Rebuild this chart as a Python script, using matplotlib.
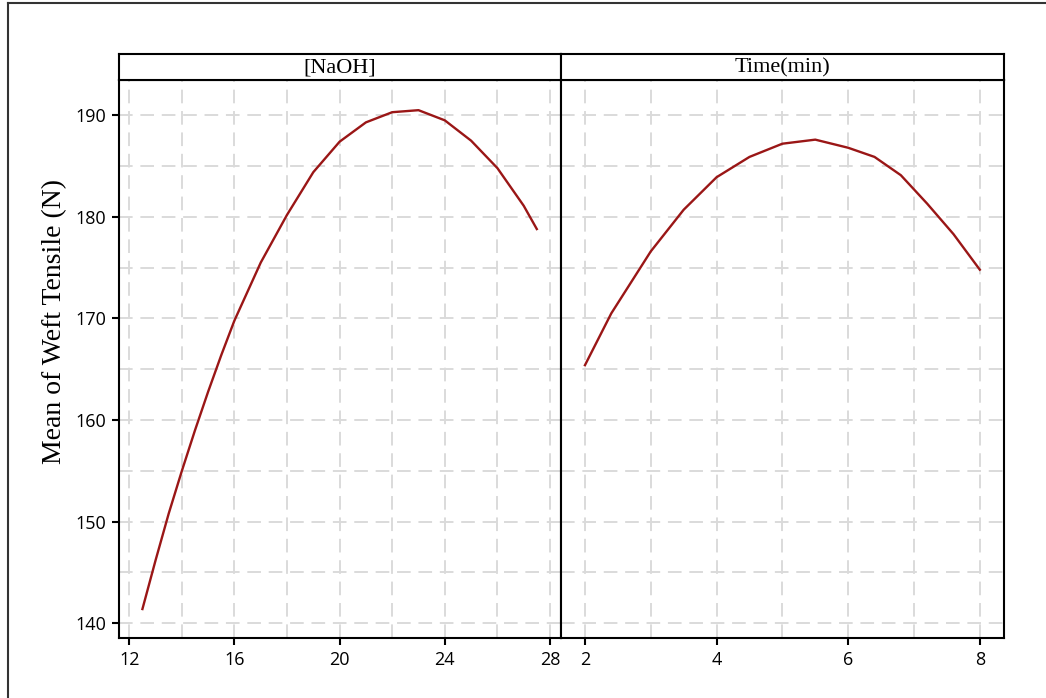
'''
Main effects style plot: fitted mean of weft tensile vs [NaOH] and time
'''

import matplotlib
matplotlib.use('Agg')
import matplotlib.pyplot as plt
from matplotlib.lines import Line2D
import numpy as np

# data
naoh_x = [12.5, 13, 13.5, 14, 14.5, 15, 15.5, 16, 17, 18, 19, 20, 21, 22, 23, 24,
          25, 26, 27, 27.5]
naoh_y = [141.4, 146.2, 150.8, 155.0, 159.0, 162.8, 166.4, 169.8, 175.5, 180.2,
          184.4, 187.4, 189.3, 190.3, 190.5, 189.5, 187.5, 184.8, 181.1, 178.8]

time_x = [2, 2.4, 3, 3.5, 4, 4.5, 5, 5.5, 6, 6.4, 6.8, 7.2, 7.6, 8]
time_y = [165.4, 170.5, 176.6, 180.7, 183.9, 185.9, 187.2, 187.6, 186.8, 185.9,
          184.1, 181.3, 178.3, 174.8]

panel_titles = ['[NaOH]', 'Time(min)']
y_label = 'Mean of Weft Tensile (N)'

naoh_ticks = [12, 16, 20, 24, 28]
time_ticks = [2, 4, 6, 8]
y_ticks = [140, 150, 160, 170, 180, 190]

LINE_COLOR = '#9a1616'
GRID_COLOR = '#dadada'
W, H = 1046, 698

fig = plt.figure(figsize=(W / 100, H / 100), dpi=100)
fig.patch.set_facecolor('white')


def px_x(p):
    return p / W


def px_y(p):
    return 1 - p / H


bottom = px_y(638.3)
top = px_y(80)
panels = [
    (118.5, 561, naoh_x, naoh_y, naoh_ticks, np.arange(12, 29, 2), (11.59, 28.42)),
    (561, 1003.5, time_x, time_y, time_ticks, np.arange(2, 9, 1), (1.636, 8.36)),
]

for i, (l, r, xs, ys, ticks, grid_x, xlim) in enumerate(panels):
    ax = fig.add_axes([px_x(l), bottom, px_x(r) - px_x(l), top - bottom])
    ax.plot(xs, ys, color=LINE_COLOR, lw=1.7, zorder=3)
    ax.set_xlim(*xlim)
    ax.set_ylim(138.52, 193.47)
    # dashed grid
    for gx in grid_x:
        ax.axvline(gx, color=GRID_COLOR, lw=1.4, ls=(0, (7, 4)), zorder=1)
    for gy in np.arange(140, 195, 5):
        ax.axhline(gy, color=GRID_COLOR, lw=1.4, ls=(0, (7, 4)), zorder=1)
    ax.set_xticks(ticks)
    ax.set_xticklabels([str(t) for t in ticks], fontsize=13, family='Open Sans')
    if i == 0:
        ax.set_yticks(y_ticks)
        ax.set_yticklabels([str(t) for t in y_ticks], fontsize=13, family='Open Sans')
    else:
        ax.set_yticks([])
    ax.tick_params(direction='out', length=5, width=1.5, pad=4, colors='black')
    for s in ax.spines.values():
        s.set_linewidth(1.5)
        s.set_color('black')

    # strip header
    strip_h = px_y(53.5) - top
    sax = fig.add_axes([px_x(l), top, px_x(r) - px_x(l), strip_h])
    sax.set_xticks([])
    sax.set_yticks([])
    for s in sax.spines.values():
        s.set_linewidth(1.5)
    sax.text(0.5, 0.45, panel_titles[i], ha='center', va='center',
             fontsize=16, family='Liberation Serif', transform=sax.transAxes)

fig.text(px_x(55), px_y(321), y_label, rotation=90, ha='center', va='center',
         fontsize=20, family='Liberation Serif')

# outer frame (only left and top edges visible in the reference)
fig.add_artist(Line2D([px_x(8), px_x(8)], [px_y(3), 0], transform=fig.transFigure,
                      color='#333333', lw=1.5))
fig.add_artist(Line2D([px_x(8), 1], [px_y(3), px_y(3)], transform=fig.transFigure,
                      color='#333333', lw=1.5))

fig.savefig('out.png', dpi=100)
